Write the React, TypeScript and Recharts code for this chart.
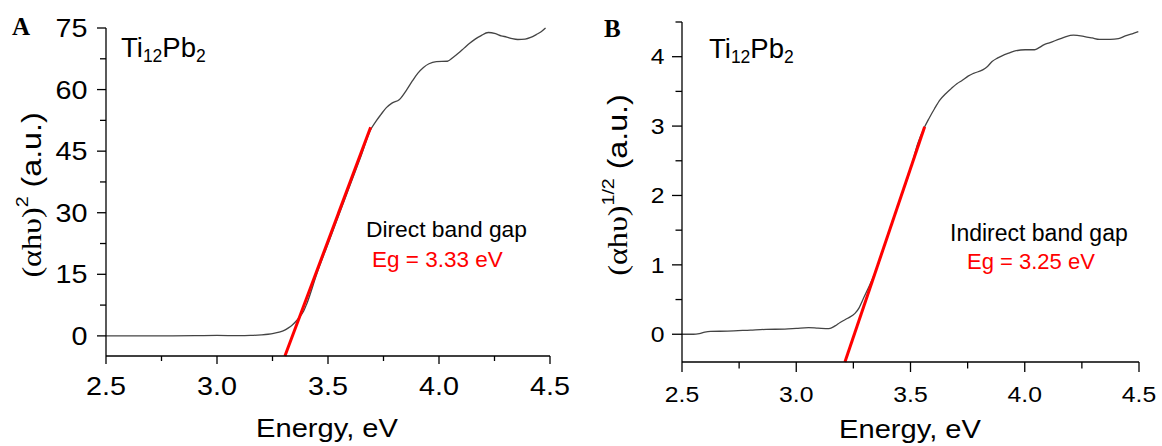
import React from "react";
import { LineChart, Line, XAxis, YAxis } from "recharts";

// panel A: (αhυ)^2 vs energy
const energyA = [2.5, 2.6, 2.7, 2.8, 2.9, 3.0, 3.1, 3.15, 3.2, 3.23, 3.255, 3.28, 3.305, 3.32, 3.338, 3.355, 3.372, 3.39, 3.405, 3.45, 3.5, 3.55, 3.6, 3.65, 3.69, 3.715, 3.738, 3.763, 3.788, 3.822, 3.855, 3.88, 3.905, 3.93, 3.955, 3.988, 4.038, 4.063, 4.088, 4.113, 4.138, 4.163, 4.188, 4.222, 4.255, 4.28, 4.305, 4.33, 4.355, 4.388, 4.413, 4.438, 4.46, 4.48];
const valuesA = [0, 0, 0, 0.02, 0.05, 0.1, 0.05, 0.1, 0.25, 0.4, 0.6, 0.9, 1.4, 1.9, 2.6, 3.5, 4.6, 6.0, 7.9, 15.2, 22.4, 29.6, 36.8, 44.0, 50.0, 52.2, 53.9, 55.6, 56.7, 57.6, 60.0, 62.1, 64.0, 65.4, 66.3, 66.8, 66.9, 67.8, 68.9, 70.1, 71.3, 72.3, 73.1, 73.9, 73.6, 73.1, 72.8, 72.4, 72.2, 72.3, 72.7, 73.4, 74.1, 75.0];
const fitEnergyA = [3.306, 3.692];
const fitValuesA = [-4.9, 50.8];

// panel B: (αhυ)^1/2 vs energy
const energyB = [2.5, 2.55, 2.576, 2.6, 2.625, 2.7, 2.8, 2.868, 2.95, 3.0, 3.054, 3.095, 3.143, 3.17, 3.192, 3.225, 3.257, 3.275, 3.289, 3.35, 3.4, 3.45, 3.5, 3.532, 3.555, 3.581, 3.605, 3.63, 3.655, 3.678, 3.703, 3.727, 3.752, 3.776, 3.816, 3.837, 3.857, 3.88, 3.905, 3.93, 3.954, 4.002, 4.043, 4.063, 4.083, 4.108, 4.132, 4.157, 4.181, 4.213, 4.262, 4.295, 4.327, 4.375, 4.41, 4.44, 4.47, 4.497];
const valuesB = [0, 0, 0.01, 0.03, 0.04, 0.045, 0.06, 0.07, 0.075, 0.085, 0.096, 0.088, 0.08, 0.12, 0.17, 0.23, 0.3, 0.38, 0.48, 0.93, 1.41, 1.9, 2.38, 2.75, 2.94, 3.11, 3.25, 3.38, 3.47, 3.54, 3.61, 3.66, 3.72, 3.76, 3.81, 3.86, 3.93, 3.98, 4.02, 4.05, 4.08, 4.1, 4.1, 4.13, 4.17, 4.2, 4.23, 4.26, 4.29, 4.31, 4.29, 4.27, 4.25, 4.25, 4.26, 4.3, 4.33, 4.36];
const fitEnergyB = [3.213, 3.562];
const fitValuesB = [-0.4, 2.99];

const xTicks = [2.5, 2.75, 3.0, 3.25, 3.5, 3.75, 4.0, 4.25, 4.5];
const xMajor = [2.5, 3.0, 3.5, 4.0, 4.5];
const yTicksA = [0, 7.5, 15, 22.5, 30, 37.5, 45, 52.5, 60, 67.5, 75];
const yMajorA = [0, 15, 30, 45, 60, 75];
const yTicksB = [0, 0.5, 1, 1.5, 2, 2.5, 3, 3.5, 4, 4.5];
const yMajorB = [0, 1, 2, 3, 4];

const toRows = (xs: number[], ys: number[]) => xs.map((x, i) => ({ x, y: ys[i] }));

const SANS = "'Liberation Sans', Arial, sans-serif";
const SERIF = "'Liberation Serif', 'Times New Roman', serif";
const STRETCH = 1.15;

// tick drawers: long tick + label on majors, short tick on minors
const makeXTick = (font: number, major: number, minor: number, off: number) => ({ x, y, payload }: any) => {
  const isMajor = xMajor.includes(payload.value);
  return (
    <g>
      <line x1={x} y1={y} x2={x} y2={y + (isMajor ? major : minor)} stroke="#000" strokeWidth={1.3} />
      {isMajor && (
        <text transform={`translate(${x},${y + off}) scale(${STRETCH},1)`} textAnchor="middle" fontSize={font} fontFamily={SANS} fill="#000">
          {payload.value.toFixed(1)}
        </text>
      )}
    </g>
  );
};

const makeYTick = (majors: number[], font: number, major: number, minor: number, gap: number) => ({ x, y, payload }: any) => {
  const isMajor = majors.includes(payload.value);
  return (
    <g>
      <line x1={x - (isMajor ? major : minor)} y1={y} x2={x} y2={y} stroke="#000" strokeWidth={1.3} />
      {isMajor && (
        <text transform={`translate(${x - gap},${y + font * 0.36}) scale(${STRETCH},1)`} textAnchor="end" fontSize={font} fontFamily={SANS} fill="#000">
          {payload.value}
        </text>
      )}
    </g>
  );
};

const XTickA = makeXTick(25, 8, 5, 39);
const XTickB = makeXTick(21.5, 10, 6.5, 40);
const YTickA = makeYTick(yMajorA, 25, 9, 6, 18.5);
const YTickB = makeYTick(yMajorB, 21.5, 10, 6.5, 17.5);

function Panel({ rows, fit, yDomain, yTicks, yTick, xTick, width, margin, yWidth, xHeight }: any) {
  return (
    <LineChart width={width} height={446} margin={margin}>
      <XAxis
        type="number"
        dataKey="x"
        domain={[2.5, 4.5]}
        ticks={xTicks}
        interval={0}
        tickSize={0}
        tickMargin={0}
        tickLine={false}
        tick={xTick}
        height={xHeight}
        axisLine={{ stroke: "#000", strokeWidth: 1.3 }}
      />
      <YAxis
        type="number"
        dataKey="y"
        domain={yDomain}
        ticks={yTicks}
        interval={0}
        tickSize={0}
        tickMargin={0}
        tickLine={false}
        tick={yTick}
        width={yWidth}
        axisLine={{ stroke: "#000", strokeWidth: 1.3 }}
      />
      <Line data={rows} dataKey="y" type="monotone" stroke="#444" strokeWidth={1.3} dot={false} isAnimationActive={false} />
      <Line data={fit} dataKey="y" type="linear" stroke="#ff0000" strokeWidth={3} dot={false} isAnimationActive={false} />
    </LineChart>
  );
}

const Formula = ({ x, y }: { x: number; y: number }) => (
  <text x={x} y={y} fontFamily={SANS} fontSize={27.5}>
    Ti<tspan fontSize={17.5} dy={5}>12</tspan><tspan dy={-5}>Pb</tspan><tspan fontSize={17.5} dy={5}>2</tspan>
  </text>
);

export default function App() {
  return (
    <div style={{ position: "absolute", left: 0, top: 0, width: 1162, height: 446, background: "#fff" }}>
      <div style={{ position: "absolute", left: 0, top: 0 }}>
        <Panel
          rows={toRows(energyA, valuesA)}
          fit={toRows(fitEnergyA, fitValuesA)}
          yDomain={[-4.9, 75]}
          yTicks={yTicksA}
          yTick={<YTickA />}
          xTick={<XTickA />}
          width={580}
          margin={{ top: 28, right: 30, bottom: 0, left: 0 }}
          yWidth={106}
          xHeight={90}
        />
      </div>
      <div style={{ position: "absolute", left: 580, top: 0 }}>
        <Panel
          rows={toRows(energyB, valuesB)}
          fit={toRows(fitEnergyB, fitValuesB)}
          yDomain={[-0.4, 4.5]}
          yTicks={yTicksB}
          yTick={<YTickB />}
          xTick={<XTickB />}
          width={582}
          margin={{ top: 22, right: 23, bottom: 0, left: 0 }}
          yWidth={102}
          xHeight={84}
        />
      </div>
      <svg width={1162} height={446} style={{ position: "absolute", left: 0, top: 0, pointerEvents: "none" }}>
        <text x={12} y={35} fontFamily={SERIF} fontWeight="bold" fontSize={25}>A</text>
        <text x={604} y={37} fontFamily={SERIF} fontWeight="bold" fontSize={25}>B</text>

        <Formula x={121} y={57} />
        <Formula x={709} y={58} />

        <text x={366} y={237} fontFamily={SANS} fontSize={22.8} fill="#000">Direct band gap</text>
        <text x={372} y={266.5} fontFamily={SANS} fontSize={22.5} fill="#ff0000">Eg = 3.33 eV</text>
        <text x={950} y={240.5} fontFamily={SANS} fontSize={23} fill="#000">Indirect band gap</text>
        <text x={967} y={268.5} fontFamily={SANS} fontSize={22} fill="#ff0000">Eg = 3.25 eV</text>

        <text transform={`translate(327,436.5) scale(1.12,1)`} textAnchor="middle" fontFamily={SANS} fontSize={26}>Energy, eV</text>
        <text transform={`translate(910,438) scale(1.12,1)`} textAnchor="middle" fontFamily={SANS} fontSize={26}>Energy, eV</text>

        <text transform={`translate(40.5,195) rotate(-90) scale(${STRETCH},1)`} textAnchor="middle" fontSize={28}>
          <tspan fontFamily={SERIF}>(αhυ)</tspan>
          <tspan fontFamily={SANS} fontSize={17} dy={-13}>2</tspan>
          <tspan fontFamily={SANS} dy={13}> (a.u.)</tspan>
        </text>
        <text transform={`translate(626.5,185) rotate(-90) scale(${STRETCH},1)`} textAnchor="middle" fontSize={28}>
          <tspan fontFamily={SERIF}>(αhυ)</tspan>
          <tspan fontFamily={SANS} fontSize={17} dy={-13}>1/2</tspan>
          <tspan fontFamily={SANS} dy={13}> (a.u.)</tspan>
        </text>
      </svg>
    </div>
  );
}
